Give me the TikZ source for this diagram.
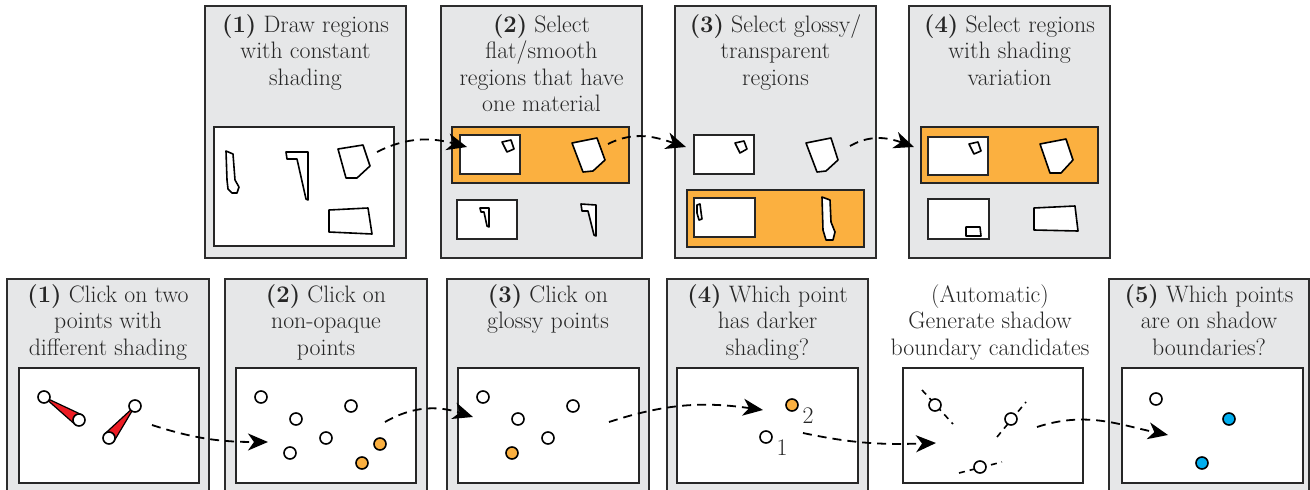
\documentclass[tikz,border=0pt]{standalone}
\usetikzlibrary{arrows.meta,calc}
\definecolor{panelgray}{RGB}{230,231,232}
\definecolor{edgegray}{RGB}{45,45,45}
\definecolor{orng}{RGB}{251,176,64}
\definecolor{cyanb}{RGB}{0,174,239}
\definecolor{redw}{RGB}{237,28,36}
\definecolor{txt}{RGB}{38,38,38}
\begin{document}
\begin{tikzpicture}[x=1pt,y=-1pt,
 panel/.style={draw=edgegray,fill=panelgray,line width=2pt},
 img/.style={draw=black!85,fill=white,line width=2pt},
 sel/.style={draw=black!85,fill=orng,line width=2pt},
 region/.style={draw=black,fill=white,line width=1.6pt,line join=round},
 title/.style={anchor=north,align=center,inner sep=0pt,text=txt,font=\fontsize{23.8}{26.5}\selectfont},
 lbl/.style={inner sep=0pt,text=txt,font=\fontsize{23.8}{26.5}\selectfont},
 pnt/.style={circle,draw=black,fill=white,line width=1.6pt,minimum size=12pt,inner sep=0pt},
 opnt/.style={pnt,fill=orng},
 bpnt/.style={pnt,fill=cyanb},
 cand/.style={line width=1.6pt,dash pattern=on 6pt off 5pt},
 flow/.style={line width=1.8pt,dash pattern=on 9pt off 6pt,-{Stealth[length=20pt,width=17pt,inset=6pt]}},
 ]
\useasboundingbox (0,0) rectangle (1310,490);
\clip (0,0) rectangle (1310,490);

% ---------- top row panels ----------
\draw[panel] (205,6) rectangle (406,258);
\draw[panel] (441,6) rectangle (642,258);
\draw[panel] (675,6) rectangle (876,258);
\draw[panel] (909,6) rectangle (1110,258);

\node[title] (t1) at (305.5,14) {\textbf{(1)} Draw regions\\with constant\\shading};
\node[title] (t2) at (541.5,14) {\textbf{(2)} Select\\flat/smooth\\regions that have\\one material};
\node[title] (t3) at (775.5,14) {\textbf{(3)} Select glossy/\\transparent\\regions};
\node[title] (t4) at (1009.5,14) {\textbf{(4)} Select regions\\with shading\\variation};

% panel T1
\draw[img] (214,127) rectangle (394,246);
\draw[region] (226,151)--(233,154)--(235,180)--(239,187)--(237,193)--(232,193)--(228,189)--(227,180)--cycle;
\draw[region] (286,152)--(308,152)--(308,200)--(306,199)--(297,159)--(287,159)--cycle;
\draw[region] (338,149)--(363,145)--(370,166)--(357,178)--(346,178)--cycle;
\draw[region] (329,210)--(368,208)--(372,234)--(329,232)--cycle;

% panel T2
\draw[sel] (452,127) rectangle (629,183);
\draw[img] (460,135) rectangle (520,174);
\draw[region] (502,142)--(511,140)--(514,149)--(507,152)--cycle;
\draw[region] (572,143)--(597,138)--(605,160)--(593,171)--(583,172)--cycle;
\draw[img] (457,200) rectangle (517,239);
\draw[region] (480,208)--(489,208)--(489,227)--(487,226)--(484,212)--(481,212)--cycle;
\draw[region] (581,204)--(596,205)--(596,236)--(594,235)--(588,211)--(582,211)--cycle;

% panel T3
\draw[img] (694,135) rectangle (754,174);
\draw[region] (735,143)--(744,141)--(747,149)--(740,153)--cycle;
\draw[region] (806,143)--(831,138)--(838,160)--(826,171)--(817,172)--cycle;
\draw[sel] (687,190) rectangle (864,247);
\draw[img] (694,198) rectangle (755,237);
\draw[region] (697,205)--(700,204)--(701,212)--(702,219)--(699,220)--(697,213)--cycle;
\draw[region] (822,197)--(830,200)--(831,222)--(835,232)--(833,240)--(826,240)--(823,230)--cycle;

% panel T4
\draw[sel] (921,127) rectangle (1098,183);
\draw[img] (928,137) rectangle (988,175);
\draw[region] (969,144)--(978,142)--(981,151)--(974,154)--cycle;
\draw[region] (1040,144)--(1066,139)--(1073,160)--(1061,173)--(1050,173)--cycle;
\draw[img] (928,199) rectangle (989,239);
\draw[region] (966,227)--(980,227)--(981,236)--(966,236)--cycle;
\draw[region] (1034,208)--(1075,206)--(1078,231)--(1034,230)--cycle;

% top connectors
\coordinate (ta1) at (377,152); \coordinate (tb1) at (467,147);
\coordinate (ta2) at (608,144); \coordinate (tb2) at (686,147);
\coordinate (ta3) at (850,146); \coordinate (tb3) at (914,147);
\draw[flow] (ta1) to[out=27,in=165] (tb1);
\draw[flow] (ta2) to[out=27,in=162] (tb2);
\draw[flow] (ta3) to[out=30,in=160] (tb3);

% ---------- bottom row panels ----------
\draw[panel] (7,279) rectangle (209,500);
\draw[panel] (225,279) rectangle (427,500);
\draw[panel] (447,279) rectangle (649,500);
\draw[panel] (667,279) rectangle (868,500);
\draw[panel] (1109,279) rectangle (1308.5,500);

\node[title] (b1) at (108,284) {\textbf{(1)} Click on two\\points with\\different shading};
\node[title] (b2) at (326,284) {\textbf{(2)} Click on\\non-opaque\\points};
\node[title] (b3) at (548,284) {\textbf{(3)} Click on\\glossy points};
\node[title] (b4) at (767.5,284) {\textbf{(4)} Which point\\has darker\\shading?};
\node[title] (b5) at (990,284) {(Automatic)\\Generate shadow\\boundary candidates};
\node[title] (b6) at (1209,284) {\textbf{(5)} Which points\\are on shadow\\boundaries?};

\draw[img] (19,368) rectangle (199,483);
\draw[img] (236,368) rectangle (416,483);
\draw[img] (458,368) rectangle (639,483);
\draw[img] (677,368) rectangle (858,483);
\draw[img] (903,368) rectangle (1083,483);
\draw[img] (1122,368) rectangle (1303,483);

% panel B1
\coordinate (pa) at (44,397); \coordinate (pb) at (79,420);
\coordinate (pc) at (135,406); \coordinate (pd) at (109,438);
\draw[fill=redw,draw=black,line width=1.2pt,line join=round] (pa) -- ($(pb)!6pt!90:(pa)$) -- ($(pb)!6pt!-90:(pa)$) -- cycle;
\draw[fill=redw,draw=black,line width=1.2pt,line join=round] (pc) -- ($(pd)!6pt!90:(pc)$) -- ($(pd)!6pt!-90:(pc)$) -- cycle;
\node[pnt] (c11) at (pa) {};
\node[pnt] (c12) at (pb) {};
\node[pnt] (c13) at (pc) {};
\node[pnt] (c14) at (pd) {};

% panel B2
\node[pnt] (c21) at (261,397) {};
\node[pnt] (c22) at (296,419) {};
\node[pnt] (c23) at (351,406) {};
\node[pnt] (c24) at (326,438) {};
\node[pnt] (c25) at (290,453) {};
\node[opnt] (c26) at (380,444) {};
\node[opnt] (c27) at (362,463) {};

% panel B3
\node[pnt] (c31) at (483,397) {};
\node[pnt] (c32) at (518,419) {};
\node[pnt] (c33) at (573,406) {};
\node[pnt] (c34) at (548,438) {};
\node[opnt] (c35) at (512,453) {};

% panel B4
\node[opnt] (c41) at (792,405) {};
\node[lbl] (l2) at (808,416) {2};
\node[pnt] (c42) at (766,437) {};
\node[lbl] (l1) at (782,448) {1};

% panel B5
\coordinate (d1a) at (922,390); \coordinate (d1b) at (953,424);
\coordinate (d2a) at (997,437); \coordinate (d2b) at (1026,402);
\coordinate (d3a) at (959,473); \coordinate (d3b) at (1002,462);
\draw[cand] (d1a) -- (d1b);
\draw[cand] (d2a) -- (d2b);
\draw[cand] (d3a) -- (d3b);
\node[pnt] (c51) at (935,405) {};
\node[pnt] (c52) at (1011,419) {};
\node[pnt] (c53) at (980,467) {};

% panel B6
\node[pnt] (c61) at (1156,399) {};
\node[bpnt] (c62) at (1229,419) {};
\node[bpnt] (c63) at (1202,463) {};

% bottom connectors
\coordinate (ba1) at (152,425); \coordinate (bb1) at (268,442);
\coordinate (ba2) at (385,422); \coordinate (bb2) at (473,417);
\coordinate (ba3) at (609,422); \coordinate (bb3) at (763,410);
\coordinate (ba4) at (803,433); \coordinate (bb4) at (936,443);
\coordinate (ba5) at (1037,427); \coordinate (bb5) at (1168,435);
\draw[flow] (ba1) to[out=-18,in=180] (bb1);
\draw[flow] (ba2) to[out=30,in=162] (bb2);
\draw[flow] (ba3) to[out=18,in=172] (bb3);
\draw[flow] (ba4) to[out=-12,in=182] (bb4);
\draw[flow] (ba5) to[out=18,in=168] (bb5);
\end{tikzpicture}
\end{document}
